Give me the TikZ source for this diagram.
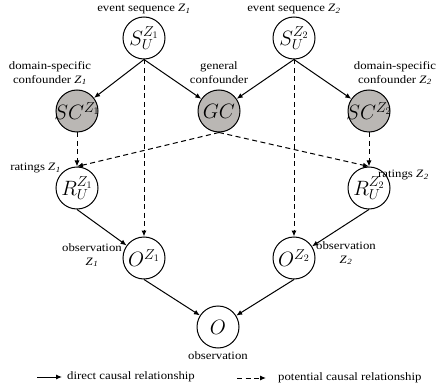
\documentclass[tikz,border=0pt]{standalone}
\usepackage{fontspec}
\setmainfont{Liberation Serif}[FakeStretch=1.13]
\usetikzlibrary{arrows.meta}
\definecolor{confgray}{RGB}{186,183,180}
\newcommand{\zsub}[1]{\textit{Z\kern0.5pt\textsubscript{#1}}}
\begin{document}
\begin{tikzpicture}[x=1pt,y=-1pt,
  lbl/.style={font=\fontsize{11.3}{14}\selectfont, inner sep=0pt, align=center},
  var/.style={circle, draw, line width=1pt, minimum size=42pt, inner sep=-9pt, font=\fontsize{20}{22}\selectfont},
  conf/.style={var, fill=confgray},
  direct/.style={-{Latex[length=6pt,width=5pt]}, line width=1pt},
  potential/.style={direct, dash pattern=on 5pt off 3.5pt}]
\useasboundingbox (0,0) rectangle (436,390);

% variables
\node[var]  (S1)  at (144,38)  {$S_U^{Z_1}$};
\node[var]  (S2)  at (294,38)  {$S_U^{Z_2}$};
\node[conf] (SC1) at (77,111)  {$SC^{Z_1}$};
\node[conf] (GC)  at (219,111) {$GC$};
\node[conf] (SC2) at (369,111) {$SC^{Z_2}$};
\node[var]  (R1)  at (77,188)  {$R_U^{Z_1}$};
\node[var]  (R2)  at (369,188) {$R_U^{Z_2}$};
\node[var]  (O1)  at (144,258) {$O^{Z_1}$};
\node[var]  (O2)  at (294,258) {$O^{Z_2}$};
\node[var]  (O)   at (218,327) {$O$};

% labels
\node[lbl] (lS1)  at (144,9)   {event sequence \zsub{1}};
\node[lbl] (lS2)  at (294,9)   {event sequence \zsub{2}};
\node[lbl] (lSC1) at (50,73)   {domain-specific\\confounder \zsub{1}};
\node[lbl] (lGC)  at (219,73)  {general\\confounder};
\node[lbl] (lSC2) at (395,73)  {domain-specific\\confounder \zsub{2}};
\node[lbl, anchor=east] (lR1) at (61,168)  {ratings \zsub{1}};
\node[lbl, anchor=west] (lR2) at (378,175) {ratings \zsub{2}};
\node[lbl] (lO1)  at (92,255)  {observation\\\zsub{1}};
\node[lbl] (lO2)  at (346,253) {observation\\\zsub{2}};
\node[lbl] (lO)   at (218,356) {observation};

% direct edges
\draw[direct] (S1.south) -- (SC1);
\draw[direct] (S1.south) -- (GC);
\draw[direct] (S2.south) -- (GC);
\draw[direct] (S2.south) -- (SC2);
\draw[direct] (R1.south) -- (O1);
\draw[direct] (R2.south) -- (O2);
\draw[direct] (O1.south) -- (O);
\draw[direct] (O2.south) -- (O);

% potential edges
\draw[potential] (S1.south) -- (O1.north);
\draw[potential] (S2.south) -- (O2.north);
\draw[potential] (SC1.south) -- (R1.north);
\draw[potential] (SC2.south) -- (R2.north);
\draw[potential] (GC.south) -- (R1.north);
\draw[potential] (GC.south) -- (R2.north);

% legend
\coordinate (la) at (37,377);
\coordinate (lb) at (62,377);
\draw[direct] (la) -- (lb);
\node[lbl, anchor=west] (lt1) at (67,377) {direct causal relationship};
\coordinate (lc) at (237,378);
\coordinate (ld) at (266,378);
\draw[potential] (lc) -- (ld);
\node[lbl, anchor=west] (lt2) at (278,378) {potential causal relationship};
\end{tikzpicture}
\end{document}
